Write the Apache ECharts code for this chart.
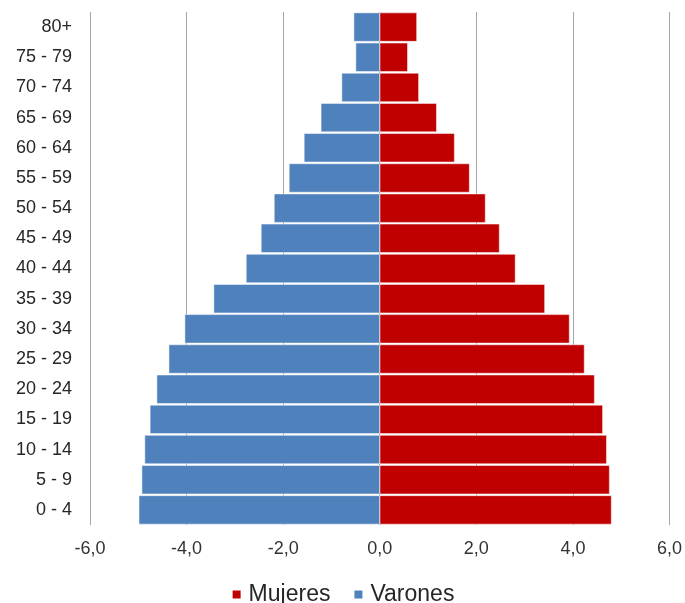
<!DOCTYPE html>
<html><head><meta charset="utf-8">
<script src="https://cdn.jsdelivr.net/npm/echarts@6/dist/echarts.min.js"></script>
<style>html,body{margin:0;padding:0;background:#fff}#c{width:685px;height:603px}</style>
</head><body><div id="c"></div>
<script>
const categories = ['0 - 4','5 - 9','10 - 14','15 - 19','20 - 24','25 - 29','30 - 34','35 - 39','40 - 44','45 - 49','50 - 54','55 - 59','60 - 64','65 - 69','70 - 74','75 - 79','80+'];
const mujeres = [4.80,4.76,4.70,4.62,4.45,4.24,3.93,3.42,2.81,2.48,2.19,1.86,1.55,1.18,0.81,0.58,0.77];
const varones = [-4.99,-4.93,-4.87,-4.76,-4.62,-4.37,-4.04,-3.44,-2.77,-2.46,-2.19,-1.88,-1.57,-1.22,-0.79,-0.50,-0.54];
const xTicks = [-6,-4,-2,0,2,4,6];

const chart = echarts.init(document.getElementById('c'), null, {renderer:'canvas'});
chart.setOption({
  animation:false,
  backgroundColor:'#fff',
  textStyle:{fontFamily:'Liberation Sans, Arial, sans-serif'},
  grid:{left:90,right:15,top:12,bottom:78,containLabel:false},
  legend:{
    top:578,left:'center',
    itemWidth:10,itemHeight:10,itemGap:22,
    icon:'rect',
    textStyle:{fontSize:23,color:'#262626',fontFamily:'Liberation Sans, Arial, sans-serif',padding:[0,0,0,2]},
    data:['Mujeres','Varones']
  },
  xAxis:{
    type:'value',min:xTicks[0],max:xTicks[xTicks.length-1],interval:2,
    axisLine:{show:false},axisTick:{show:false},
    splitLine:{show:true,lineStyle:{color:'#a6a6a6',width:1}},
    axisLabel:{fontSize:18,color:'#333333',margin:15,formatter:v=>v.toFixed(1).replace('.',',')}
  },
  yAxis:{
    type:'category',data:categories,
    axisLine:{show:false},axisTick:{show:false},
    axisLabel:{fontSize:18,color:'#262626',margin:18}
  },
  series:[
    {name:'Mujeres',type:'bar',data:mujeres,barGap:'-100%',barCategoryGap:'4%',
     itemStyle:{color:'#C00000',borderColor:'#ffffff',borderWidth:0.5}},
    {name:'Varones',type:'bar',data:varones,barCategoryGap:'4%',
     itemStyle:{color:'#4F81BD',borderColor:'#ffffff',borderWidth:0.5}}
  ]
});
</script></body></html>
